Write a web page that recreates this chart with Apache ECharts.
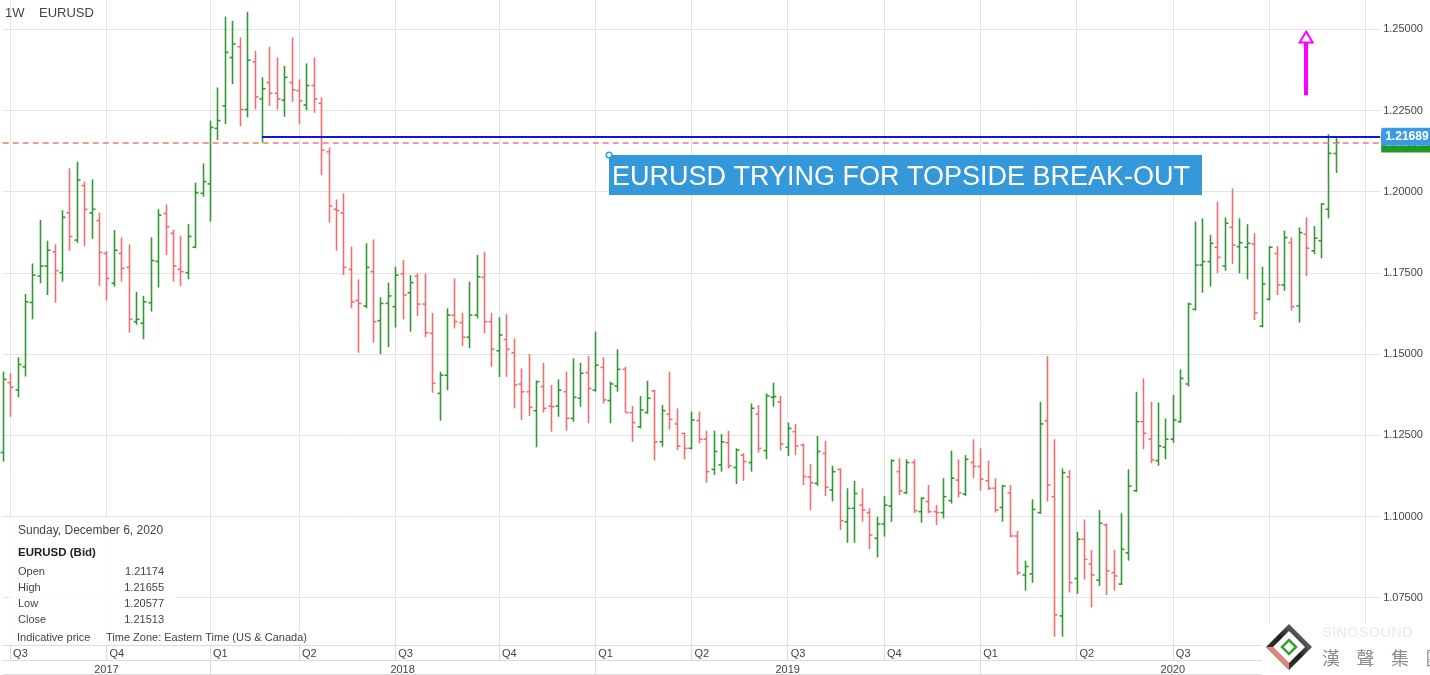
<!DOCTYPE html>
<html><head><meta charset="utf-8">
<script src="https://cdn.jsdelivr.net/npm/echarts@6/dist/echarts.min.js"></script>
<style>html,body{margin:0;padding:0;background:#fff}#c{width:1430px;height:675px}</style>
</head><body><div id="c"></div>
<script>
// ---- data ----
const startDate = '2017-06-25';   // first weekly bar (Sunday)
const weekCount = 187;            // weekly categories incl. empty future weeks
const symbolName = 'EURUSD';
const openP = [
1.1197,1.1412,1.1390,1.1461,1.1659,1.1740,1.1771,1.1815,1.1751,1.1935,
1.1851,1.2019,1.1935,1.1911,1.1810,1.1718,1.1810,1.1767,1.1600,1.1595,
1.1658,1.1785,1.1933,1.1872,1.1761,1.1751,1.1829,1.1995,1.2024,1.2195,
1.2264,1.2413,1.2446,1.2253,1.2400,1.2286,1.2336,1.2303,1.2282,1.2336,
1.2311,1.2267,1.2327,1.2272,1.2123,1.1946,1.1935,1.1761,1.1665,1.1648,
1.1754,1.1603,1.1656,1.1646,1.1747,1.1689,1.1740,1.1654,1.1564,1.1379,
1.1435,1.1620,1.1597,1.1552,1.1620,1.1736,1.1600,1.1510,1.1545,1.1504,
1.1408,1.1384,1.1326,1.1400,1.1340,1.1340,1.1384,1.1302,1.1364,1.1443,
1.1389,1.1459,1.1357,1.1402,1.1453,1.1320,1.1276,1.1320,1.1387,1.1230,
1.1315,1.1285,1.1256,1.1210,1.1295,1.1238,1.1145,1.1159,1.1227,1.1151,
1.1189,1.1166,1.1315,1.1203,1.1367,1.1353,1.1213,1.1261,1.1220,1.1121,
1.1102,1.1194,1.1082,1.1145,1.0984,1.1025,1.1035,1.1012,1.0933,1.0977,
1.1032,1.1138,1.1073,1.1166,1.1015,1.1046,1.1015,1.1012,1.1049,1.1112,
1.1069,1.1166,1.1154,1.1110,1.1087,1.1028,1.1073,1.0940,1.0820,1.0823,
1.1012,1.1295,1.1061,1.0694,1.1122,1.0809,1.0930,1.0854,1.0804,1.0974,
1.0827,1.0792,1.0888,1.1079,1.1292,1.1238,1.1172,1.1213,1.1238,1.1292,
1.1408,1.1638,1.1774,1.1785,1.1829,1.1771,1.1890,1.1831,1.1829,1.1839,
1.1586,1.1669,1.1810,1.1713,1.1843,1.1648,1.1869,1.1818,1.1849,1.1946,
1.21174];
const highP = [
1.1446,1.1441,1.1490,1.1685,1.1779,1.1913,1.1849,1.1838,1.1943,1.2072,
1.2092,1.2031,1.2038,1.1935,1.1818,1.1882,1.1859,1.1838,1.1692,1.1679,
1.1859,1.1946,1.1961,1.1882,1.1864,1.1900,1.2028,1.2087,1.2219,1.2321,
1.2539,1.2526,1.2475,1.2554,1.2434,1.2352,1.2446,1.2413,1.2387,1.2475,
1.2346,1.2395,1.2413,1.2290,1.2136,1.1976,1.1995,1.1831,1.1730,1.1841,
1.1853,1.1675,1.1720,1.1769,1.1790,1.1743,1.1748,1.1748,1.1627,1.1446,
1.1641,1.1733,1.1627,1.1723,1.1805,1.1815,1.1627,1.1613,1.1623,1.1548,
1.1456,1.1500,1.1418,1.1473,1.1405,1.1422,1.1446,1.1487,1.1473,1.1494,
1.1569,1.1490,1.1415,1.1515,1.1461,1.1340,1.1371,1.1418,1.1390,1.1343,
1.1446,1.1333,1.1258,1.1323,1.1323,1.1264,1.1264,1.1254,1.1264,1.1210,
1.1195,1.1348,1.1343,1.1379,1.1412,1.1371,1.1289,1.1285,1.1225,1.1162,
1.1248,1.1233,1.1156,1.1148,1.1087,1.1110,1.1087,1.1025,1.0999,1.1063,
1.1176,1.1179,1.1176,1.1176,1.1059,1.1097,1.1035,1.1118,1.1203,1.1176,
1.1189,1.1238,1.1210,1.1172,1.1118,1.1097,1.1097,1.0956,1.0864,1.1053,
1.1353,1.1494,1.1238,1.1148,1.1143,1.0953,1.0991,1.0897,1.1020,1.0979,
1.0897,1.1010,1.1145,1.1384,1.1425,1.1353,1.1351,1.1302,1.1374,1.1453,
1.1659,1.1908,1.1918,1.1867,1.1969,1.1921,1.2010,1.1918,1.1900,1.1872,
1.1769,1.1833,1.1833,1.1880,1.1859,1.1890,1.1921,1.1894,1.1964,1.2177,
1.21655];
const lowP = [
1.1169,1.1307,1.1367,1.1431,1.1607,1.1718,1.1682,1.1658,1.1723,1.1818,
1.1843,1.1833,1.1855,1.1710,1.1665,1.1708,1.1723,1.1566,1.1590,1.1546,
1.1631,1.1705,1.1805,1.1723,1.1710,1.1730,1.1826,1.1985,1.1908,1.2159,
1.2208,1.2331,1.2202,1.2229,1.2253,1.2151,1.2264,1.2253,1.2231,1.2277,
1.2208,1.2251,1.2243,1.2051,1.1905,1.1818,1.1743,1.1641,1.1504,1.1641,
1.1535,1.1500,1.1521,1.1582,1.1607,1.1569,1.1617,1.1552,1.1381,1.1295,
1.1389,1.1579,1.1525,1.1518,1.1610,1.1564,1.1461,1.1430,1.1430,1.1333,
1.1297,1.1309,1.1213,1.1320,1.1261,1.1307,1.1264,1.1292,1.1338,1.1287,
1.1384,1.1348,1.1287,1.1384,1.1320,1.1230,1.1271,1.1317,1.1172,1.1215,
1.1268,1.1205,1.1176,1.1207,1.1225,1.1104,1.1128,1.1138,1.1148,1.1100,
1.1110,1.1138,1.1197,1.1176,1.1338,1.1203,1.1186,1.1189,1.1097,1.1020,
1.1094,1.1063,1.1046,1.0958,1.0919,1.0919,1.0984,1.0899,1.0874,1.0938,
1.0984,1.1066,1.1069,1.1010,1.0981,1.1010,1.0974,1.0994,1.1040,1.1059,
1.1063,1.1118,1.1079,1.1081,1.1012,1.0984,1.0936,1.0820,1.0772,1.0796,
1.1008,1.1046,1.0630,1.0630,1.0766,1.0762,1.0806,1.0720,1.0786,1.0758,
1.0772,1.0789,1.0864,1.1076,1.1207,1.1164,1.1156,1.1176,1.1227,1.1289,
1.1400,1.1634,1.1689,1.1708,1.1749,1.1757,1.1777,1.1749,1.1730,1.1605,
1.1582,1.1665,1.1682,1.1695,1.1634,1.1597,1.1740,1.1808,1.1795,1.1918,
1.20577];
const closeP = [
1.1422,1.1398,1.1468,1.1661,1.1743,1.1771,1.1820,1.1757,1.1921,1.1862,
1.2036,1.1946,1.1946,1.1813,1.1733,1.1820,1.1764,1.1607,1.1607,1.1661,
1.1788,1.1928,1.1892,1.1771,1.1754,1.1862,1.1997,1.2031,1.2198,1.2219,
1.2429,1.2455,1.2253,1.2405,1.2292,1.2317,1.2303,1.2286,1.2352,1.2313,
1.2280,1.2327,1.2286,1.2128,1.1956,1.1942,1.1767,1.1661,1.1656,1.1767,
1.1600,1.1656,1.1679,1.1743,1.1682,1.1720,1.1654,1.1566,1.1410,1.1435,
1.1620,1.1600,1.1552,1.1620,1.1738,1.1600,1.1515,1.1559,1.1515,1.1405,
1.1384,1.1336,1.1415,1.1333,1.1338,1.1389,1.1302,1.1367,1.1441,1.1394,
1.1466,1.1359,1.1408,1.1453,1.1320,1.1289,1.1328,1.1364,1.1230,1.1326,
1.1299,1.1217,1.1210,1.1297,1.1238,1.1138,1.1200,1.1230,1.1156,1.1205,
1.1169,1.1333,1.1210,1.1371,1.1369,1.1223,1.1271,1.1217,1.1123,1.1104,
1.1200,1.1090,1.1138,1.0987,1.1025,1.1071,1.1020,1.0943,1.0977,1.1035,
1.1172,1.1079,1.1166,1.1018,1.1056,1.1015,1.1012,1.1061,1.1118,1.1073,
1.1176,1.1154,1.1115,1.1087,1.1020,1.1094,1.0940,1.0827,1.0846,1.1022,
1.1285,1.1097,1.0697,1.1135,1.0796,1.0930,1.0868,1.0820,1.0979,1.0833,
1.0817,1.0899,1.1094,1.1292,1.1256,1.1174,1.1217,1.1238,1.1297,1.1425,
1.1654,1.1774,1.1785,1.1841,1.1798,1.1903,1.1836,1.1843,1.1841,1.1627,
1.1716,1.1829,1.1713,1.1859,1.1646,1.1874,1.1826,1.1857,1.1962,1.2118,
1.21513];
const resistanceLevel = 1.21689;
const resistanceStartIdx = 35;
const lastClose = 1.21513;
const arrowIdx = 176, arrowFrom = 1.2297, arrowTo = 1.2476;
const yearLabelIdx = [14, 54, 106, 158];
const yTicks = {min: 1.05, max: 1.275, step: 0.025};
const infoTitle = 'Sunday, December 6, 2020';
const infoSymbol = 'EURUSD (Bid)';
const infoNames = ['Open', 'High', 'Low', 'Close'];
const infoValues = ['1.21174', '1.21655', '1.20577', '1.21513'];
const annotationText = 'EURUSD TRYING FOR TOPSIDE BREAK-OUT';

// ---- derived ----
const weeks = [];
{ let t = Date.parse(startDate + 'T00:00:00Z');
  for (let i = 0; i < weekCount; i++) { weeks.push(new Date(t).toISOString().slice(0, 10)); t += 7 * 864e5; } }
const qOf = w => Math.floor((+w.slice(5, 7) - 1) / 3);
const isQuarterStart = weeks.map((w, i) => i > 0 && qOf(w) !== qOf(weeks[i - 1]));
const isYearStart = weeks.map((w, i) => i > 0 && w.slice(0, 4) !== weeks[i - 1].slice(0, 4));
const bars = openP.map((o, i) => [i, o, highP[i], lowP[i], closeP[i]]);

const FONT = 'Liberation Sans, Arial, sans-serif';
const GREEN = '#2f9a2f', RED = '#f26e6e';
const GL = 2.7, GR = 49.8;

const chart = echarts.init(document.getElementById('c'), null, {renderer: 'canvas'});
const txt = (text, x, y, o = {}) => ({type: 'text', z: 102, style: Object.assign({text, x, y, fill: '#444', fontSize: 11, fontFamily: FONT, verticalAlign: 'middle'}, o)});

chart.setOption({
  animation: false,
  backgroundColor: '#fff',
  grid: [
    {left: GL, right: GR, top: -51.9, height: 730.8, outerBoundsMode: 'none', containLabel: false},
    {left: GL, right: GR, top: 0, bottom: 29.5, outerBoundsMode: 'none', containLabel: false}
  ],
  xAxis: [
    {type: 'category', gridIndex: 0, data: weeks, boundaryGap: false, show: false},
    {type: 'category', gridIndex: 1, data: weeks, boundaryGap: false, position: 'bottom',
      axisLine: {lineStyle: {color: '#dcdcdc'}},
      axisTick: {show: true, interval: i => isQuarterStart[i], length: 15, lineStyle: {color: '#dcdcdc'}},
      axisLabel: {interval: i => isQuarterStart[i], formatter: v => 'Q' + (qOf(v) + 1), align: 'left', margin: 3,
        padding: [0, 0, 0, 3], color: '#444', fontSize: 11, fontFamily: FONT},
      splitLine: {show: true, interval: i => isQuarterStart[i], lineStyle: {color: '#e4e4e4'}}
    },
    {type: 'category', gridIndex: 1, data: weeks, boundaryGap: false, position: 'bottom', offset: 15,
      axisLine: {lineStyle: {color: '#dcdcdc'}},
      axisTick: {show: true, interval: i => isYearStart[i], length: 15, lineStyle: {color: '#dcdcdc'}},
      axisLabel: {interval: i => yearLabelIdx.includes(i), formatter: v => v.slice(0, 4), margin: 4,
        color: '#444', fontSize: 11, fontFamily: FONT},
      splitLine: {show: false}
    },
    {type: 'category', gridIndex: 1, data: weeks, boundaryGap: false, position: 'bottom', offset: 29,
      axisLine: {lineStyle: {color: '#dcdcdc'}}, axisTick: {show: false}, axisLabel: {show: false}}
  ],
  yAxis: [
    {type: 'value', gridIndex: 0, position: 'right', min: yTicks.min, max: yTicks.max, interval: yTicks.step,
      axisLine: {show: false}, axisTick: {show: false},
      axisLabel: {formatter: v => v.toFixed(5), color: '#444', fontSize: 11, fontFamily: FONT, margin: 3,
        showMinLabel: false, showMaxLabel: false},
      splitLine: {lineStyle: {color: '#e4e4e4'}}
    },
    {type: 'value', gridIndex: 1, show: false, splitLine: {show: false}}
  ],
  series: [{
    type: 'custom', xAxisIndex: 0, yAxisIndex: 0, data: bars,
    encode: {x: 0, y: [1, 2, 3, 4]},
    renderItem: (params, api) => {
      const i = api.value(0), o = api.value(1), h = api.value(2), l = api.value(3), c = api.value(4);
      const pH = api.coord([i, h]), pL = api.coord([i, l]), pO = api.coord([i, o]), pC = api.coord([i, c]);
      const col = c >= o ? GREEN : RED;
      const x = Math.round(pH[0]) + 0.5;
      const st = {stroke: col, lineWidth: 1.6};
      return {type: 'group', children: [
        {type: 'line', shape: {x1: x, y1: pH[1], x2: x, y2: pL[1]}, style: st},
        {type: 'line', shape: {x1: x - 3, y1: pO[1], x2: x, y2: pO[1]}, style: st},
        {type: 'line', shape: {x1: x, y1: pC[1], x2: x + 3, y2: pC[1]}, style: st}
      ]};
    },
    markLine: {
      silent: true, animation: false, symbol: 'none', precision: 5,
      data: [
        {yAxis: lastClose, lineStyle: {color: '#f07a72', type: [6, 4], width: 1.5},
          label: {show: true, position: 'end', distance: 1, formatter: lastClose.toFixed(5), backgroundColor: '#1f9a1f',
            color: '#fff', fontSize: 12, fontFamily: FONT, padding: [7, 4, 1, 4]}},
        [{coord: [resistanceStartIdx, resistanceLevel], symbol: 'none',
          lineStyle: {color: '#1212e8', width: 2, type: 'solid'},
          label: {show: true, position: 'end', distance: 1, formatter: resistanceLevel.toFixed(5), backgroundColor: '#3b9be2',
            color: '#fff', fontSize: 12, fontWeight: 'bold', fontFamily: FONT, padding: [3, 4, 3, 4], borderRadius: 2}},
         {coord: [weekCount - 1, resistanceLevel], symbol: 'none'}],
        [{coord: [arrowIdx, arrowFrom], symbol: 'none',
          lineStyle: {color: '#ff00ff', width: 4, type: 'solid'}, label: {show: false}},
         {coord: [arrowIdx, arrowTo], symbol: 'emptyTriangle', symbolSize: [13, 11]}]
      ]
    }
  }],
  graphic: [
    txt('1W', 5, 13, {fontSize: 13}),
    txt(symbolName, 39, 13, {fontSize: 13}),
    // annotation
    {type: 'rect', z: 101, shape: {x: 609, y: 155, width: 593, height: 40}, style: {fill: '#3498db'}},
    txt(annotationText, 612, 178, {fontSize: 27, fill: '#fff'}),
    {type: 'circle', z: 103, shape: {cx: 609, cy: 155, r: 2.8}, style: {fill: '#fff', stroke: '#3498db', lineWidth: 1.5}},
    // info box
    {type: 'rect', z: 101, shape: {x: 10, y: 518, width: 165, height: 113}, style: {fill: 'rgba(255,255,255,0.86)'}},
    {type: 'rect', z: 101, shape: {x: 10, y: 631, width: 308, height: 14}, style: {fill: 'rgba(255,255,255,0.86)'}},
    txt(infoTitle, 18, 531, {fontSize: 12}),
    txt(infoSymbol, 18, 553, {fontSize: 11.5, fontWeight: 'bold', fill: '#222'}),
    ...infoNames.map((n, k) => txt(n, 18, 572 + 16 * k)),
    ...infoValues.map((v, k) => txt(v, 164, 572 + 16 * k, {align: 'right'})),
    txt('Indicative price', 17, 638),
    txt('Time Zone: Eastern Time (US & Canada)', 106, 638),
    // logo
    {type: 'rect', z: 101, shape: {x: 1262, y: 624, width: 168, height: 51}, style: {fill: '#fff'}},
    {type: 'polygon', z: 102, shape: {points: [[1289, 624], [1312, 647], [1289, 670], [1266, 647]]},
      style: {fill: new echarts.graphic.LinearGradient(1, 0, 0, 1, [{offset: 0, color: '#9a9a9a'}, {offset: 0.5, color: '#1e1e1e'}, {offset: 1, color: '#555'}])}},
    {type: 'polygon', z: 103, shape: {points: [[1266, 647], [1273, 647], [1289, 663], [1289, 670]]}, style: {fill: '#e2847a'}},
    {type: 'polygon', z: 103, shape: {points: [[1289, 631], [1305, 647], [1289, 663], [1273, 647]]}, style: {fill: '#fff'}},
    {type: 'polygon', z: 104, shape: {points: [[1289, 640], [1296, 647], [1289, 654], [1282, 647]]}, style: {fill: 'none', stroke: '#36a336', lineWidth: 2.5}},
    txt('SINOSOUND', 1322, 633, {fontSize: 15, fontWeight: 'bold', fill: '#efefef'}),
    ...['漢', '聲', '集', '團'].map((ch, k) => txt(ch, 1331 + 34.5 * k, 658, {fontSize: 18, align: 'center', fill: '#8c8c8c', fontFamily: 'Noto Sans CJK TC'}))
  ]
});
</script></body></html>
